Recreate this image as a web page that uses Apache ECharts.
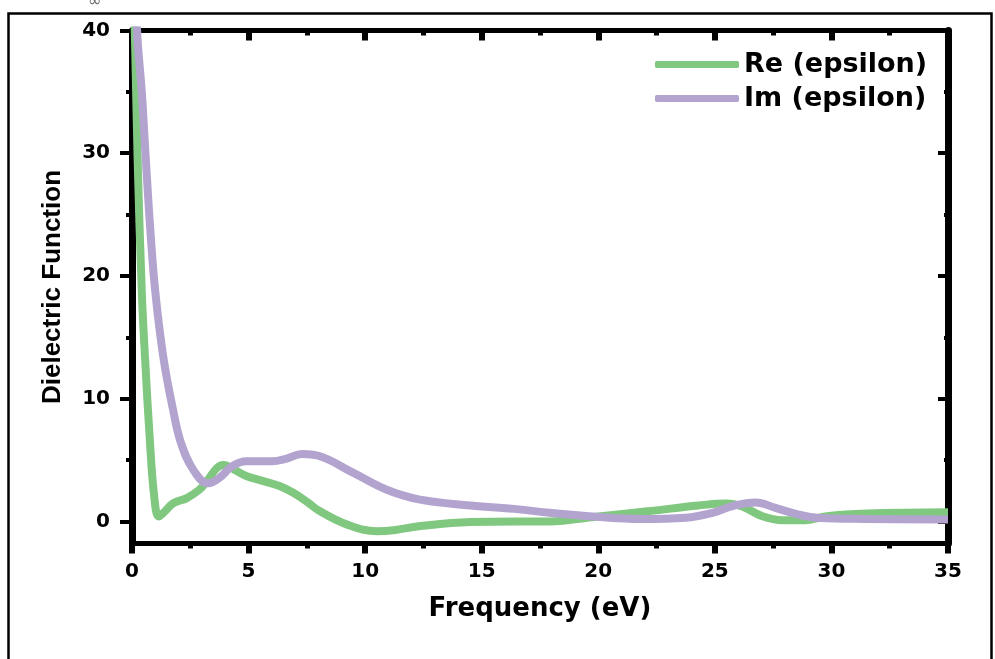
<!DOCTYPE html>
<html>
<head>
<meta charset="utf-8">
<title>Dielectric Function</title>
<script src="https://cdn.jsdelivr.net/npm/echarts@6/dist/echarts.min.js"></script>
<style>
  html, body { margin: 0; padding: 0; background: #fff; }
  #chart { width: 995px; height: 659px; }
</style>
</head>
<body>
<div id="chart"></div>
<script>
// Re (epsilon)
var reFreq = [0.02, 0.12, 0.24, 0.42, 0.56, 0.77, 0.95, 1.15, 1.4, 1.77, 2.35, 2.9, 3.2, 3.63, 3.92, 4.4, 4.9, 5.6, 6.3, 6.9, 7.5, 8.05, 9.2, 10.5, 11.3, 12.3, 14.5, 16.6, 17.9, 19.9, 22.2, 24.3, 25.5, 26.2, 27.0, 27.9, 28.9, 29.8, 31.5, 35];
var reVal = [46, 40, 29.6, 18.7, 13.3, 6.5, 2.1, 0.4, 0.8, 1.48, 1.9, 2.6, 3.24, 4.33, 4.6, 4.2, 3.7, 3.3, 2.9, 2.35, 1.6, 0.84, -0.24, -0.8, -0.7, -0.4, -0.05, 0, 0, 0.38, 0.84, 1.3, 1.46, 1.2, 0.45, 0.1, 0.1, 0.43, 0.65, 0.75];

// Im (epsilon)
var imFreq = [0.12, 0.23, 0.42, 0.59, 0.77, 1.0, 1.35, 1.75, 2.1, 2.63, 3.27, 3.75, 4.3, 4.9, 6.0, 6.6, 7.3, 8.0, 9.5, 10.9, 12.3, 14.5, 16.6, 17.9, 19.9, 21.8, 23.75, 24.9, 25.75, 26.75, 27.6, 28.6, 29.5, 31.5, 35];
var imVal = [46, 39.6, 35, 29.6, 24.2, 18.7, 13.3, 9.2, 6.4, 4.2, 3.1, 3.55, 4.5, 4.9, 4.9, 5.1, 5.5, 5.35, 3.95, 2.6, 1.8, 1.3, 0.98, 0.7, 0.38, 0.2, 0.3, 0.7, 1.25, 1.55, 1.1, 0.55, 0.28, 0.2, 0.15];

var seriesNames = ["Re (epsilon)", "Im (epsilon)"];
var seriesColors = ["#80c880", "#b3a4cf"];
var yTicks = [0, 10, 20, 30, 40];
var yMinorTicks = [5, 15, 25, 35];

function pairs(xs, ys) {
  return xs.map(function (x, i) { return [x, ys[i]]; });
}

var chart = echarts.init(document.getElementById("chart"));
var font = "DejaVu Sans";

var xBase = {
  type: "value",
  min: 0,
  max: 35,
  interval: 5,
  splitLine: { show: false },
  axisLine: { onZero: false, lineStyle: { color: "#000", width: 5 } },
  minorTick: { show: true, splitNumber: 2, length: 5, lineStyle: { color: "#000", width: 5 } },
  axisTick: { length: 10, lineStyle: { color: "#000", width: 6 } }
};

function yAxisDef(pos, values, len, inside, labels, line) {
  return {
    type: "value",
    position: pos,
    min: -1.8,
    max: 40,
    splitLine: { show: false },
    axisLine: { show: line, onZero: false, lineStyle: { color: "#000", width: 7 } },
    axisTick: { customValues: values, inside: inside, length: len, lineStyle: { color: "#000", width: 4 } },
    axisLabel: labels ? {
      customValues: values, margin: 22, color: "#000",
      fontFamily: font, fontWeight: "bold", fontSize: 20
    } : { show: false }
  };
}

var yLeft = yAxisDef("left", yTicks, 12, false, true, true);
yLeft.name = "Dielectric Function";
yLeft.nameLocation = "middle";
yLeft.nameRotate = 90;
yLeft.nameGap = 66;
yLeft.nameTextStyle = { color: "#000", fontFamily: "Liberation Sans", fontWeight: "bold", fontSize: 26 };

chart.setOption({
  animation: false,
  grid: { left: 132, right: 47, top: 30.5, bottom: 115.5 },
  legend: {
    orient: "vertical",
    left: 650,
    top: 46,
    icon: "roundRect",
    itemWidth: 84,
    itemHeight: 7,
    itemGap: 7,
    textStyle: { color: "#000", fontFamily: font, fontWeight: "bold", fontSize: 27 },
    data: seriesNames
  },
  xAxis: [
    Object.assign({}, xBase, {
      position: "bottom",
      name: "Frequency (eV)",
      nameLocation: "middle",
      nameGap: 53,
      nameTextStyle: { color: "#000", fontFamily: font, fontWeight: "bold", fontSize: 26 },
      axisLabel: { margin: 18, color: "#000", fontFamily: font, fontWeight: "bold", fontSize: 20 }
    }),
    Object.assign({}, xBase, {
      position: "top",
      axisTick: { inside: true, length: 10, lineStyle: { color: "#000", width: 6 } },
      minorTick: { show: true, splitNumber: 2, length: 5, lineStyle: { color: "#000", width: 5 } },
      axisLabel: { show: false }
    })
  ],
  yAxis: [
    yLeft,
    yAxisDef("left", yMinorTicks, 6, false, false, false),
    yAxisDef("right", yTicks, 10, true, false, true),
    yAxisDef("right", yMinorTicks, 4, true, false, false)
  ],
  series: [
    {
      name: seriesNames[0],
      type: "line",
      xAxisIndex: 0,
      yAxisIndex: 0,
      data: pairs(reFreq, reVal),
      smooth: 0.4,
      symbol: "none",
      lineStyle: { color: seriesColors[0], width: 8 },
      itemStyle: { color: seriesColors[0] }
    },
    {
      name: seriesNames[1],
      type: "line",
      xAxisIndex: 0,
      yAxisIndex: 0,
      data: pairs(imFreq, imVal),
      smooth: 0.4,
      symbol: "none",
      lineStyle: { color: seriesColors[1], width: 8 },
      itemStyle: { color: seriesColors[1] }
    }
  ],
  graphic: [
    {
      type: "rect",
      shape: { x: 8.5, y: 13.5, width: 983, height: 700 },
      style: { fill: null, stroke: "#000", lineWidth: 2.5 },
      silent: true
    },
    {
      type: "text",
      left: 88,
      top: -6,
      style: { text: "\u221e", fill: "#666", font: "16px DejaVu Sans" },
      silent: true
    }
  ]
});
</script>
</body>
</html>
